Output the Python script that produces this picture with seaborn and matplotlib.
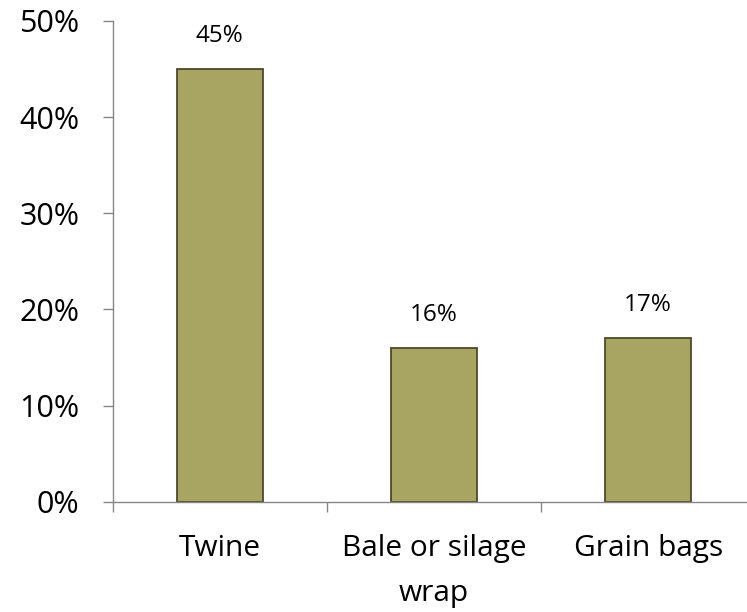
import pandas as pd
import seaborn as sns
import matplotlib.pyplot as plt

# Chart data
categories = ["Twine", "Bale or silage\nwrap", "Grain bags"]
shares = [45, 16, 17]
y_ticks = [0, 10, 20, 30, 40, 50]

df = pd.DataFrame({"Item": categories, "Share": shares})

sns.set_style("white")
plt.rcParams["font.family"] = ["Open Sans", "DejaVu Sans"]
plt.rcParams["text.color"] = "black"
plt.rcParams["xtick.color"] = "black"
plt.rcParams["ytick.color"] = "black"

fig = plt.figure(figsize=(7.47, 6.12), dpi=100)
ax = fig.add_axes([0.151, 0.180, 0.86, 0.786])

sns.barplot(
    data=df, x="Item", y="Share", ax=ax,
    color="#A8A462", saturation=1, width=0.4,
    edgecolor="#4E4A2C", linewidth=1.3
)

# Value labels above bars
for i, v in enumerate(shares):
    ax.text(i, v + 2.2, f"{v}%", ha="center", va="bottom", fontsize=17.5, color="black")

ax.set_ylim(0, 50)
ax.set_xlim(-0.5, 2.5)
ax.set_yticks(y_ticks)
ax.set_yticklabels([f"{t}%" for t in y_ticks], fontsize=22)

# tick marks at category boundaries, labels at centres
ax.set_xticks([-0.5, 0.5, 1.5, 2.5])
ax.set_xticklabels([])
ax.set_xticks([0, 1, 2], minor=True)
ax.set_xticklabels(categories, minor=True, fontsize=21.5, linespacing=1.75)
ax.tick_params(axis="x", which="minor", length=0, pad=23)
ax.tick_params(axis="x", which="major", direction="out", length=7, width=1, color="#868686", bottom=True)
ax.tick_params(axis="y", direction="out", length=7, width=1, color="#868686", labelcolor="black", left=True, pad=17)

ax.set_xlabel("")
ax.set_ylabel("")
for side in ["top", "right"]:
    ax.spines[side].set_visible(False)
for side in ["left", "bottom"]:
    ax.spines[side].set_color("#868686")
    ax.spines[side].set_linewidth(1)

fig.savefig("out.png", dpi=100)
